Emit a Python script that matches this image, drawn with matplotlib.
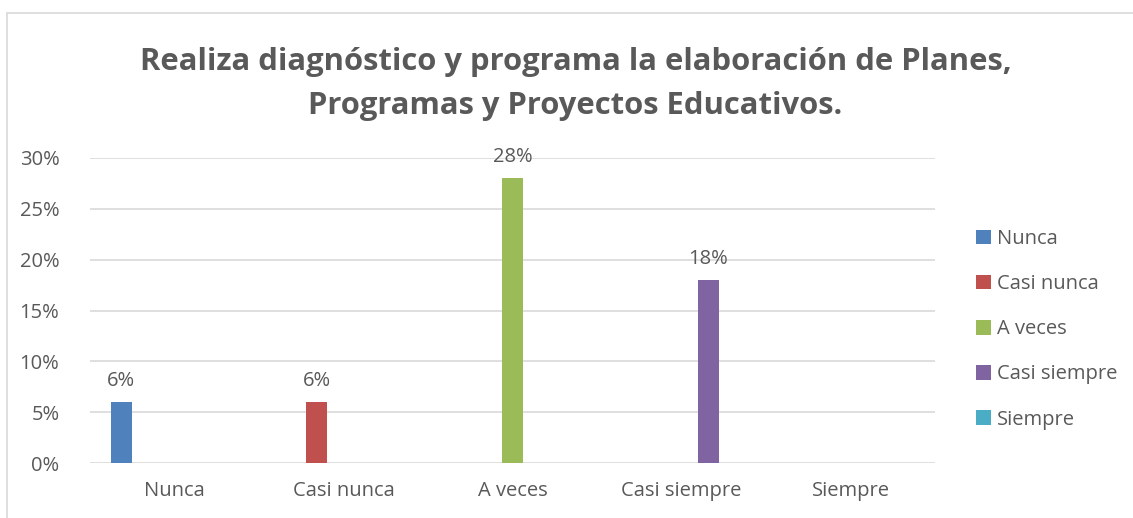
import numpy as np
import matplotlib.pyplot as plt
from matplotlib.patches import Rectangle

categories = ['Nunca', 'Casi nunca', 'A veces', 'Casi siempre', 'Siempre']
series_names = ['Nunca', 'Casi nunca', 'A veces', 'Casi siempre', 'Siempre']
values = [0.06, 0.06, 0.28, 0.18, 0.0]
colors = ['#4F81BD', '#C0504D', '#9BBB59', '#8064A2', '#4BACC6']
title = 'Realiza diagnóstico y programa la elaboración de Planes,\nProgramas y Proyectos Educativos.'

txt = '#595959'
fs = 14.5
plt.rcParams['font.family'] = ['Open Sans', 'DejaVu Sans']

fig = plt.figure(figsize=(11.33, 5.18), dpi=100)
ax = fig.add_axes([0.0794, 0.106, 0.7459, 0.589])

x = np.arange(len(categories))
slot = 0.157
width = 0.124
for i, name in enumerate(series_names):
    # each series only has a value in its own category
    vals = [values[i] if j == i else 0 for j in range(len(categories))]
    ax.bar(x + (i - 2) * slot, vals, width, color=colors[i], label=name, zorder=3)
    if values[i] > 0:
        ax.text(i + (i - 2) * slot, values[i] + 0.011, f'{values[i]:.0%}',
                ha='center', va='bottom', fontsize=fs, color=txt)

ax.set_xlim(-0.5, 4.5)
ax.set_ylim(0, 0.30)
ax.set_yticks(np.arange(0, 0.31, 0.05))
ax.set_yticklabels([f'{v:.0%}' for v in np.arange(0, 0.31, 0.05)])
ax.set_xticks(x)
ax.set_xticklabels(categories)
ax.tick_params(axis='both', length=0, labelsize=fs, labelcolor=txt)
ax.tick_params(axis='y', pad=22)
ax.tick_params(axis='x', pad=13)
ax.grid(axis='y', color='#D9D9D9', linewidth=1.2, zorder=0)
for s in ax.spines.values():
    s.set_visible(False)

leg = fig.legend(loc='upper left', bbox_to_anchor=(0.845, 0.593), frameon=False,
                 fontsize=fs, handlelength=0.75, handleheight=0.75,
                 handletextpad=0.3, labelspacing=1.25)
for t in leg.get_texts():
    t.set_color(txt)

fig.text(0.508, 0.838, title, ha='center', va='center', fontsize=22.3,
         fontweight='bold', color=txt, linespacing=1.62)

fig.patches.append(Rectangle((7 / 1133, -0.1), 1.2, 1.1 - 13 / 518,
                             transform=fig.transFigure, fill=False,
                             edgecolor='#D9D9D9', linewidth=1.2))

fig.savefig('out.png', dpi=100)
